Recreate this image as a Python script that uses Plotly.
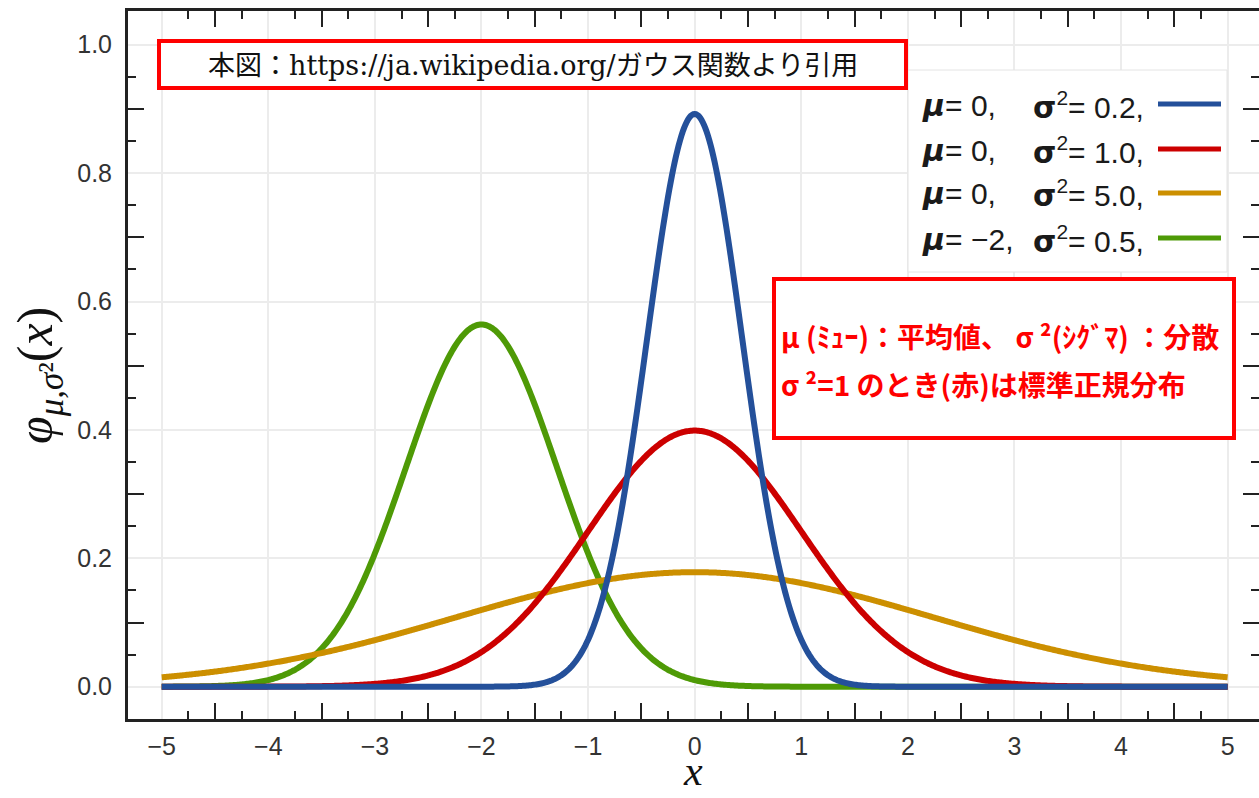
import numpy as np
import plotly.graph_objects as go

# Normal distribution parameters (mean, variance) and line colours
means = [0, 0, 0, -2]
variances = [0.2, 1.0, 5.0, 0.5]
colors = ["#24509a", "#cc0000", "#cc8f00", "#4e9a06"]
mu_labels = ["0", "0", "0", "\u22122"]
var_labels = ["0.2", "1.0", "5.0", "0.5"]

x_ticks = [-5, -4, -3, -2, -1, 0, 1, 2, 3, 4, 5]
x_ticktext = ["\u22125", "\u22124", "\u22123", "\u22122", "\u22121", "0", "1", "2", "3", "4", "5"]
y_ticks = [0.0, 0.2, 0.4, 0.6, 0.8, 1.0]
y_ticktext = ["0.0", "0.2", "0.4", "0.6", "0.8", "1.0"]

W, H = 1259, 798
ML, MR, MT, MB = 128, 0, 11, 79
PW, PH = W - ML - MR, H - MT - MB


def px(x):
    return (x - ML) / PW


def py(y):
    return (H - MB - y) / PH


xs = np.linspace(-5, 5, 801)
fig = go.Figure()

# stacking order: the narrow blue density ends on top
draw_order = [3, 2, 1, 0]
for i in draw_order:
    m, v = means[i], variances[i]
    ys = np.exp(-(xs - m) ** 2 / (2 * v)) / np.sqrt(2 * np.pi * v)
    fig.add_trace(go.Scatter(x=xs, y=ys, mode="lines",
                             line=dict(color=colors[i], width=6, simplify=False),
                             hoverinfo="skip", showlegend=False))

# empty traces so the tick-only overlay axes get drawn
fig.add_trace(go.Scatter(x=[], y=[], xaxis="x2", yaxis="y", showlegend=False, hoverinfo="skip"))
fig.add_trace(go.Scatter(x=[], y=[], xaxis="x", yaxis="y2", showlegend=False, hoverinfo="skip"))

xr = [-5.316, 5.294]
yr = [-0.0503, 1.0525]
half_x = [k + 0.5 for k in range(-5, 5)]
quarter_x = [k + f for k in range(-5, 5) for f in (0.25, 0.75)]
tenth_y = [0.1, 0.3, 0.5, 0.7, 0.9]
twentieth_y = [round(k * 0.1 + 0.05, 2) for k in range(10)]

tick_font = dict(family="Liberation Sans, Arial, sans-serif", size=25, color="#333333")

fig.update_layout(
    width=W, height=H,
    margin=dict(l=ML, r=MR, t=MT, b=MB),
    paper_bgcolor="white", plot_bgcolor="white",
    showlegend=False,
    xaxis=dict(range=xr, tickvals=x_ticks, ticktext=x_ticktext, ticks="",
               showgrid=True, gridcolor="#ececec", gridwidth=2, zeroline=False,
               showline=True, linecolor="#222222", linewidth=3, mirror=True,
               tickfont=tick_font, ticklabelstandoff=3),
    yaxis=dict(range=yr, tickvals=y_ticks, ticktext=y_ticktext, ticks="",
               showgrid=True, gridcolor="#ececec", gridwidth=2, zeroline=False,
               showline=True, linecolor="#222222", linewidth=3, mirror=False,
               tickfont=tick_font, ticklabelstandoff=8),
    xaxis2=dict(range=xr, overlaying="x", anchor="y", side="bottom",
                tickmode="array", tickvals=half_x, ticks="inside", ticklen=16,
                tickwidth=2, tickcolor="#222222", showticklabels=False,
                showgrid=False, zeroline=False, showline=False, mirror="ticks",
                minor=dict(tickmode="array", tickvals=quarter_x, ticks="inside",
                           ticklen=8, tickwidth=2, tickcolor="#222222", showgrid=False)),
    yaxis2=dict(range=yr, overlaying="y", anchor="x", side="left",
                tickmode="array", tickvals=tenth_y, ticks="inside", ticklen=16,
                tickwidth=2, tickcolor="#222222", showticklabels=False,
                showgrid=False, zeroline=False, showline=False, mirror="ticks",
                minor=dict(tickmode="array", tickvals=twentieth_y, ticks="inside",
                           ticklen=8, tickwidth=2, tickcolor="#222222", showgrid=False)),
)

shapes = []
annotations = []

# legend panel
shapes.append(dict(type="rect", xref="paper", yref="paper",
                   x0=px(908), x1=px(1227), y0=py(272), y1=py(70),
                   fillcolor="white", line=dict(color="#e4e4e4", width=1), layer="above"))
row_y = [104, 149, 193, 238]
for i in range(4):
    annotations.append(dict(
        xref="paper", yref="paper", x=px(920), y=py(row_y[i] + 1), xanchor="left", yanchor="middle",
        text="<span style='font-family:DejaVu Sans'><b><i>\u03bc</i></b></span>= " + mu_labels[i] + ",",
        showarrow=False, font=dict(family="Liberation Sans, Arial, sans-serif", size=30, color="#1a1a1a")))
    annotations.append(dict(
        xref="paper", yref="paper", x=px(1031), y=py(row_y[i] + 1), xanchor="left", yanchor="middle",
        text="<span style='font-family:DejaVu Sans'><b>\u03c3</b></span><sup>2</sup>= " + var_labels[i] + ",",
        showarrow=False, font=dict(family="Liberation Sans, Arial, sans-serif", size=30, color="#1a1a1a")))
    shapes.append(dict(type="line", xref="paper", yref="paper",
                       x0=px(1158), x1=px(1221), y0=py(row_y[i]), y1=py(row_y[i]),
                       line=dict(color=colors[i], width=5), layer="above"))

# source note box
shapes.append(dict(type="rect", xref="paper", yref="paper",
                   x0=px(159), x1=px(906), y0=py(88), y1=py(41),
                   fillcolor="white", line=dict(color="#ff0000", width=4), layer="above"))
annotations.append(dict(
    xref="paper", yref="paper", x=px(533), y=py(66), xanchor="center", yanchor="middle",
    text="本図：https://ja.wikipedia.org/ガウス関数より引用", showarrow=False,
    font=dict(family="DejaVu Serif, Noto Sans CJK JP, serif", size=27, color="#111111")))

# explanation box
shapes.append(dict(type="rect", xref="paper", yref="paper",
                   x0=px(774), x1=px(1234), y0=py(438), y1=py(279),
                   fillcolor="white", line=dict(color="#ff0000", width=4), layer="above"))
annotations.append(dict(
    xref="paper", yref="paper", x=px(779), y=py(336), xanchor="left", yanchor="middle",
    text="<b>μ (ﾐｭｰ)：平均値、 σ ²(ｼｸﾞﾏ) ：分散</b>", showarrow=False,
    font=dict(family="Noto Sans CJK JP, sans-serif", size=28, color="#ff0000")))
annotations.append(dict(
    xref="paper", yref="paper", x=px(779), y=py(384), xanchor="left", yanchor="middle",
    text="<b>σ ²=1 のとき(赤)は標準正規分布</b>", showarrow=False,
    font=dict(family="Noto Sans CJK JP, sans-serif", size=28, color="#ff0000")))

# axis titles
annotations.append(dict(
    xref="paper", yref="paper", x=px(39), y=py(376), xanchor="center", yanchor="middle",
    textangle=-90, text="<i>φ</i><sub><i>μ,σ</i>²</sub>(<i>x</i>)", showarrow=False,
    font=dict(family="Liberation Serif, DejaVu Serif, serif", size=50, color="#111111")))
annotations.append(dict(
    xref="paper", yref="paper", x=px(693), y=py(771), xanchor="center", yanchor="middle",
    text="<i>x</i>", showarrow=False,
    font=dict(family="Liberation Serif, DejaVu Serif, serif", size=42, color="#111111")))

fig.update_layout(shapes=shapes, annotations=annotations)
fig.write_html("out.html")
